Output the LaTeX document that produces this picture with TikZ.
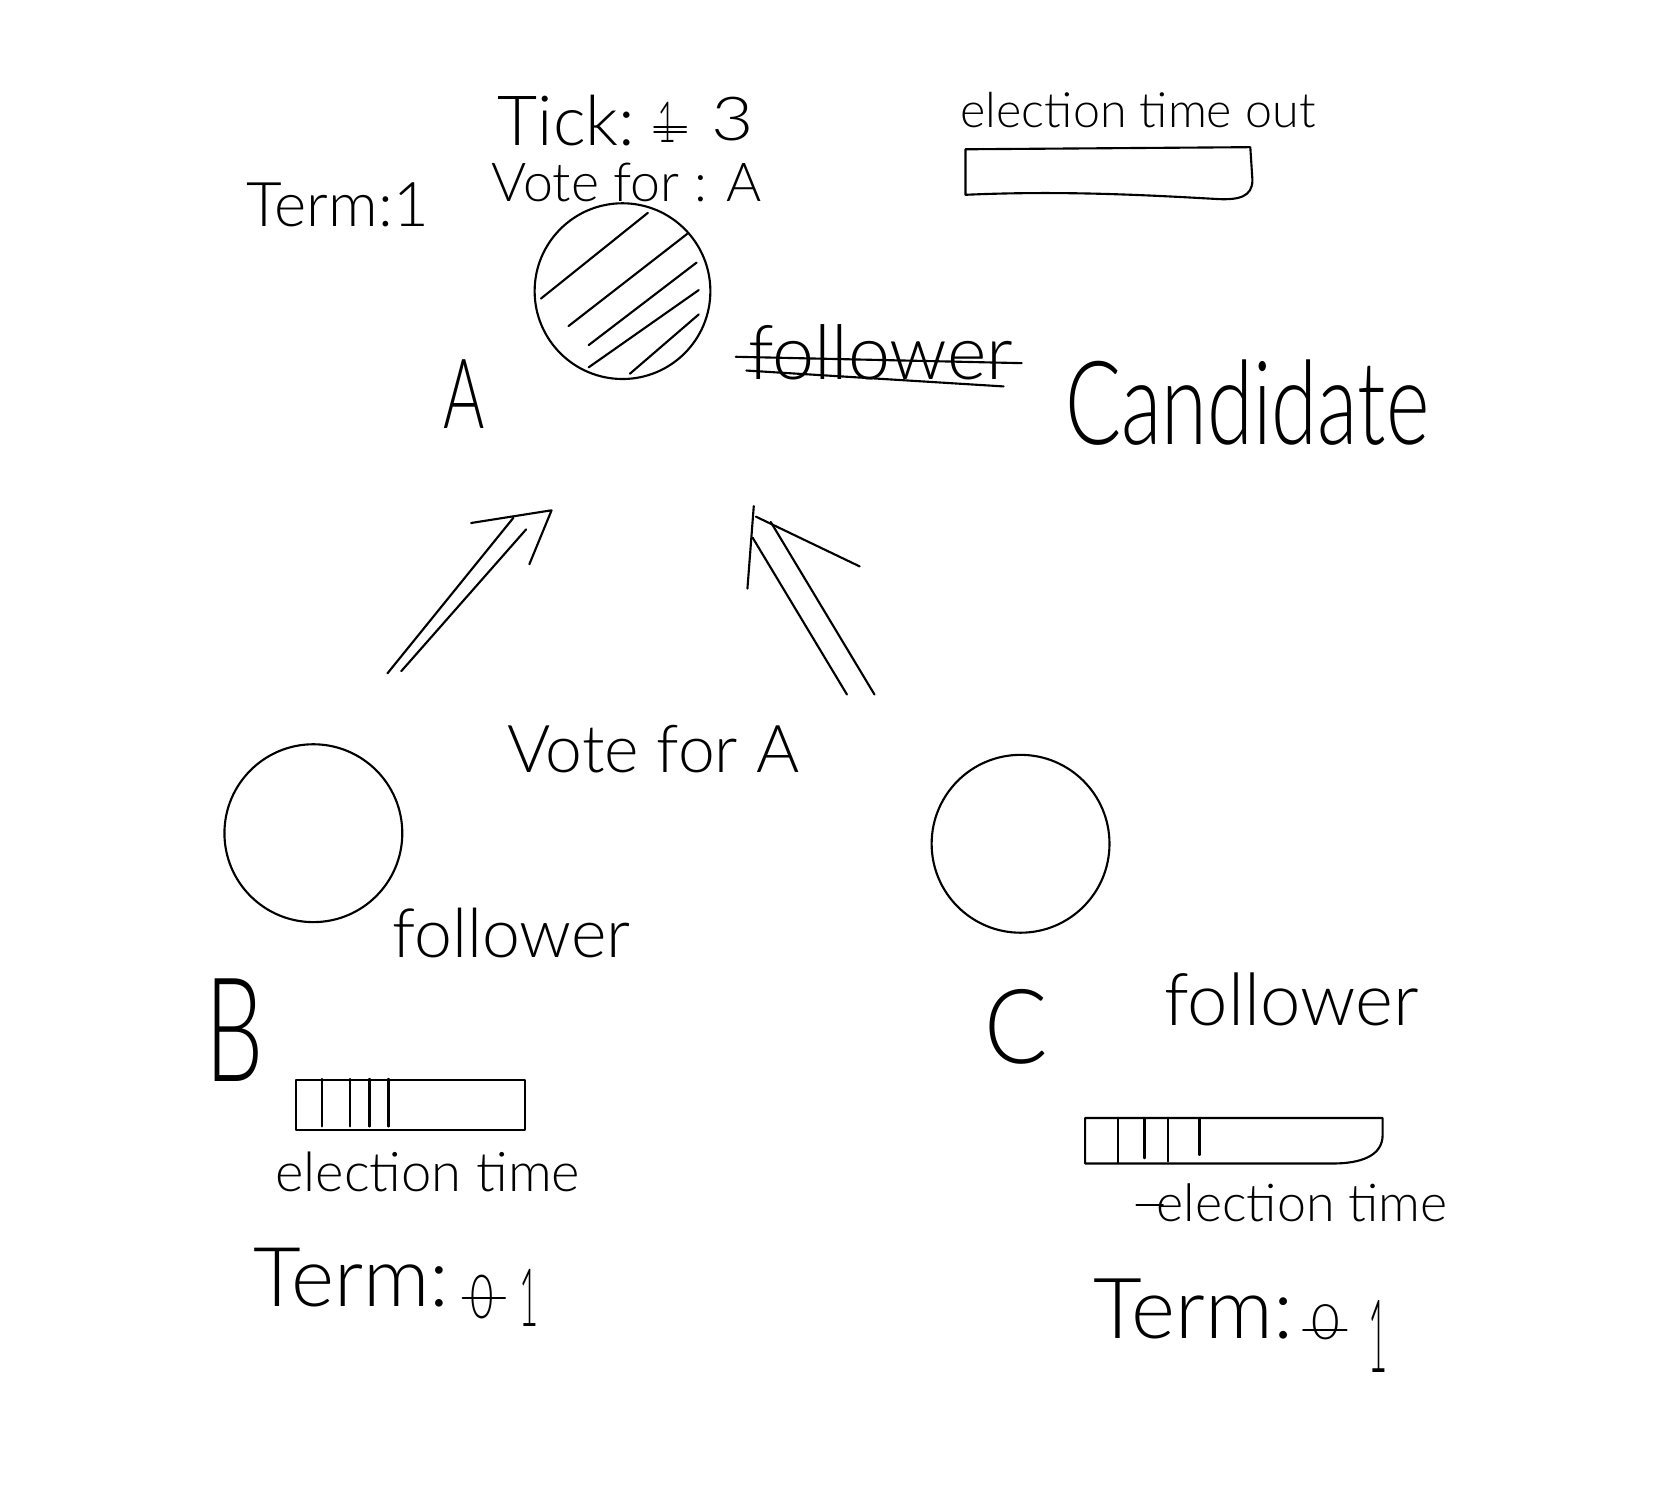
\documentclass[tikz,border=0pt]{standalone}
\usepackage{fontspec}
\IfFontExistsTF{Lato Light}{\setmainfont{Lato Light}}{\setmainfont{Liberation Sans}}
\usepackage{graphicx}
\usetikzlibrary{calc}
\newcommand{\fitto}[2]{\resizebox{#1}{!}{#2}}
\newcommand{\fitwh}[3]{\resizebox{#1}{#2}{#3}}
\begin{document}
\begin{tikzpicture}[x=0.5pt,y=-0.5pt,line width=1pt,line cap=round,line join=round,
  txt/.style={inner sep=0pt,outer sep=0pt},
  ring/.style={circle,draw,inner sep=0pt,minimum size=#1},
  barbox/.style={draw,inner sep=0pt,minimum width=#1}]
\fill[white] (0,0) rectangle (1568,1421);
\useasboundingbox (0,0) rectangle (1568,1421);

% ---- node A (candidate) ----
\node[ring=83pt] (A) at (588,275) {};
\foreach \a/\b/\c/\d in {-77/7/24/-74, -51/33/61/-54, -32/51/70/-27, -32/72/72/-1, 7/78/72/22}
  \draw ([shift={(\a,\b)}]A.center) -- ([shift={(\c,\d)}]A.center);

\node[txt] (tick) at (535,114) {\fitto{65pt}{Tick:}};
\node[txt] (tickold) at (630,116) {\fitwh{9pt}{19pt}{1}};
\draw ([shift={(-12,4)}]tickold.center) -- ([shift={(18,4)}]tickold.center);
\draw ([shift={(-12,9)}]tickold.center) -- ([shift={(18,9)}]tickold.center);
\node[txt] (ticknew) at (692,112) {\fitwh{20pt}{20.5pt}{3}};
\node[txt] (votefor) at (592,172) {\fitto{127.5pt}{Vote for : A}};
\node[txt] (termA) at (319,193) {\fitto{86pt}{Term:1}};
\node[txt] (labA) at (438,372) {\fitwh{19.5pt}{32.5pt}{A}};

% election time out bar
\node[txt] (eto) at (1075,104) {\fitto{167.5pt}{election time out}};
\coordinate (etoNW) at (912,141);
\coordinate (etoNE) at (1181,139);
\coordinate (etoSW) at (912,184);
\draw (etoNW) -- (etoNE) -- (1183,170) .. controls (1183,186) and (1170,189) .. (1150,188)
  .. controls (1080,184) and (1000,180) .. (etoSW) -- cycle;

% follower (struck) -> Candidate
\node[txt] (folA) at (832,333) {\fitto{125pt}{follower}};
\draw ([shift={(-137,4)}]folA.center) -- ([shift={(133,10)}]folA.center);
\draw ([shift={(-127,17)}]folA.center) -- ([shift={(116,32)}]folA.center);
\node[txt] (cand) at (1178,380) {\fitwh{172pt}{40pt}{Candidate}};

% ---- arrows ----
\coordinate (l1a) at (366,636); \coordinate (l1b) at (485,489);
\coordinate (l2a) at (379,634); \coordinate (l2b) at (497,500);
\coordinate (ltip) at (521,482); \coordinate (lw1) at (445,494); \coordinate (lw2) at (500,533);
\draw (l1a) -- (l1b);
\draw (l2a) -- (l2b);
\draw (lw1) -- (ltip) -- (lw2);

\coordinate (r1a) at (800,656); \coordinate (r1b) at (711,508);
\coordinate (r2a) at (826,656); \coordinate (r2b) at (728,493);
\coordinate (rtip) at (712,478); \coordinate (rw1) at (706,556); \coordinate (rw2) at (812,535); \coordinate (rw2b) at (714,488);
\draw (r1a) -- (r1b);
\draw (r2a) -- (r2b);
\draw (rw1) -- (rtip);
\draw (rw2b) -- (rw2);

\node[txt] (voteA) at (617,708) {\fitto{138pt}{Vote for A}};

% ---- node B ----
\node[ring=84pt] (B) at (296,787) {};
\node[txt] (folB) at (483,881) {\fitto{112.5pt}{follower}};
\node[txt] (labB) at (222,973) {\fitwh{27.5pt}{48.5pt}{B}};
\node[barbox=108pt,minimum height=23.5pt] (barB) at (388,1043.5) {};
\foreach \t in {25,52,70,88}
  \draw ([xshift=\t*0.5pt]barB.north west) -- ([xshift=\t*0.5pt,yshift=2pt]barB.south west);
\node[txt] (etB) at (404,1107) {\fitto{144pt}{election time}};
\node[txt] (termB) at (332,1207) {\fitto{92.5pt}{Term:}};
\node[txt] (oldB) at (455,1225) {\fitwh{11pt}{20.5pt}{0}};
\draw ([shift={(-18,1)}]oldB.center) -- ([shift={(22,1)}]oldB.center);
\node[txt] (newB) at (500,1226) {\fitwh{9pt}{27pt}{1}};

% ---- node C ----
\node[ring=84pt] (C) at (964,797) {};
\node[txt] (labC) at (960,970) {\fitwh{30pt}{35pt}{C}};
\node[txt] (folC) at (1220,944) {\fitto{120pt}{follower}};
\coordinate (barCNW) at (1025,1056);
\coordinate (barCNE) at (1306,1056);
\coordinate (barCSW) at (1025,1099);
\draw (barCNW) -- (barCNE) -- (1306,1072) .. controls (1306,1092) and (1285,1099) .. (1259,1099) -- (barCSW) -- cycle;
\foreach \x/\yb in {1056/1098,1081/1094,1103/1097,1133/1091}
  \draw (\x,1056) -- (\x,\yb);
\node[txt] (etC) at (1230,1136) {\fitto{137.5pt}{election time}};
\draw ([xshift=-9.5pt,yshift=-1pt]etC.west) -- ([xshift=3pt,yshift=-1pt]etC.west);
\node[txt] (termC) at (1127,1236) {\fitto{94.5pt}{Term:}};
\node[txt] (oldC) at (1252,1249) {\fitwh{13.5pt}{16.5pt}{0}};
\draw ([shift={(-21,7)}]oldC.center) -- ([shift={(20,7)}]oldC.center);
\node[txt] (newC) at (1302,1262) {\fitwh{9pt}{34pt}{1}};
\end{tikzpicture}
\end{document}
